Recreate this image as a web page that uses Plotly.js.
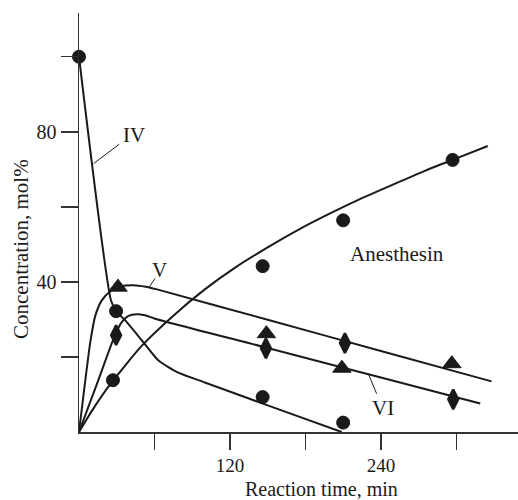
<!DOCTYPE html>
<html>
<head>
<meta charset="utf-8">
<script src="https://cdn.plot.ly/plotly-3.0.1.min.js"></script>
<style>
  html, body { margin: 0; padding: 0; background: #fff; }
  #chart { width: 518px; height: 500px; }
</style>
</head>
<body>
<div id="chart"></div>
<script>
// ---- Data ----
// Fitted curves (time in min, concentration in mol%)
const curveIV_t = [0, 25.4, 29.5, 36.6, 49.8, 63, 78.9, 100, 150, 208.8];
const curveIV_v = [100, 35.1, 32.2, 29.8, 24.5, 19.1, 15.8, 13.2, 7.1, 0];

const curveV_t = [0, 4, 9, 13, 18, 25, 33, 43, 53, 62, 150, 240, 328];
const curveV_v = [0, 11, 24, 31, 35, 37.5, 38.8, 39.1, 38.7, 38, 29.9, 21.6, 13.5];

const curveVI_t = [0, 15, 28.6, 34, 39, 46, 52.4, 60.4, 150, 240, 319];
const curveVI_v = [0, 13.5, 25.8, 29.3, 30.9, 31.4, 31.1, 30.2, 22.4, 14.5, 7.6];

const curveAn_t = [0, 10, 25, 50, 75, 100, 125, 150, 175, 200, 225, 250, 275, 300, 325];
const curveAn_v = [0, 5.5, 12.8, 23, 31, 38, 44, 49.2, 54, 58.3, 62.3, 66, 69.6, 72.9, 76.2];

// Experimental points
const ptsIV_t = [0, 29.5, 146, 210];
const ptsIV_v = [100, 32.2, 9.3, 2.5];

const ptsAn_t = [27, 146, 210, 297];
const ptsAn_v = [13.8, 44.2, 56.4, 72.5];

const ptsTri_t = [31, 149, 209, 296.4];
const ptsTri_v = [38.6, 26.2, 17.0, 18.2];

const ptsDia_t = [29.5, 148.6, 211.4, 297.5];
const ptsDia_v = [25.8, 22.3, 23.7, 8.7];

// Axis ticks
const xTickVals = [60, 120, 180, 240, 300];
const xTickText = ['', '120', '', '240', ''];
const yTickVals = [20, 40, 60, 80, 100];
const yTickText = ['', '40', '', '80', ''];

// Curve labels
const labelText = ['IV', 'V', 'VI', 'Anesthesin'];
const labelT = [43.4, 63.7, 241.8, 252.5];
const labelV = [79.1, 43.1, 6.5, 47.4];
// pointer lines for labels [t0, v0, t1, v1]
const pointerIV = [32, 76.7, 11.5, 71.5];
const pointerV = [60.4, 40.9, 55.6, 38.5];
const pointerVI = [236.6, 10.2, 229.9, 15.6];

// ---- Drawing ----
const FONT = 'Liberation Serif, Times New Roman, serif';
const INK = '#1a1a1a';

function curve(t, v) {
  return {x: t, y: v, type: 'scatter', mode: 'lines',
    line: {color: INK, width: 2, shape: 'spline', smoothing: 0.6},
    hoverinfo: 'skip', showlegend: false};
}
function pts(t, v, symbol, size, lw) {
  return {x: t, y: v, type: 'scatter', mode: 'markers',
    marker: {symbol: symbol, size: size, color: INK, line: {color: INK, width: lw}},
    hoverinfo: 'skip', showlegend: false, cliponaxis: false};
}

const traces = [
  curve(curveIV_t, curveIV_v),
  curve(curveV_t, curveV_v),
  curve(curveVI_t, curveVI_v),
  curve(curveAn_t, curveAn_v),
  pts(ptsIV_t, ptsIV_v, 'circle', 13, 1),
  pts(ptsAn_t, ptsAn_v, 'circle', 13, 1),
  pts(ptsTri_t, ptsTri_v, 'triangle-up', 16, 1),
  pts(ptsDia_t, ptsDia_v, 'diamond-tall', 14, 2.5)
];

const annotations = labelText.map((txt, i) => ({
  x: labelT[i], y: labelV[i], xref: 'x', yref: 'y', text: txt, showarrow: false,
  xanchor: 'center', yanchor: 'middle', font: {family: FONT, size: 21, color: INK}
}));
annotations.push({
  x: -0.131, y: 0.438, xref: 'paper', yref: 'paper', text: 'Concentration, mol%',
  textangle: -90, showarrow: false, xanchor: 'center', yanchor: 'middle',
  font: {family: FONT, size: 21, color: INK}
});
annotations.push({
  x: 0.553, y: -0.136, xref: 'paper', yref: 'paper', text: 'Reaction time, min',
  showarrow: false, xanchor: 'center', yanchor: 'middle',
  font: {family: FONT, size: 20, color: INK}
});

const shapes = [pointerIV, pointerV, pointerVI].map(p => ({
  type: 'line', xref: 'x', yref: 'y', x0: p[0], y0: p[1], x1: p[2], y1: p[3],
  line: {color: INK, width: 1}
}));

const layout = {
  width: 518, height: 500,
  margin: {l: 79, r: 0, t: 13, b: 68},
  paper_bgcolor: '#fff', plot_bgcolor: '#fff',
  showlegend: false,
  xaxis: {
    range: [0, 349], showgrid: false, zeroline: false,
    showline: true, linecolor: '#333', linewidth: 1.5,
    ticks: 'outside', ticklen: 16, tickwidth: 1.5, tickcolor: '#333',
    tickmode: 'array', tickvals: xTickVals, ticktext: xTickText,
    tickfont: {family: FONT, size: 19, color: INK}
  },
  yaxis: {
    range: [0, 111.65], showgrid: false, zeroline: false,
    showline: true, linecolor: '#333', linewidth: 1.5,
    ticks: 'outside', ticklen: 17, tickwidth: 1.5, tickcolor: '#333',
    tickmode: 'array', tickvals: yTickVals, ticktext: yTickText,
    tickfont: {family: FONT, size: 20, color: INK}
  },
  annotations: annotations,
  shapes: shapes
};

Plotly.newPlot('chart', traces, layout, {staticPlot: true, displayModeBar: false});
</script>
</body>
</html>
